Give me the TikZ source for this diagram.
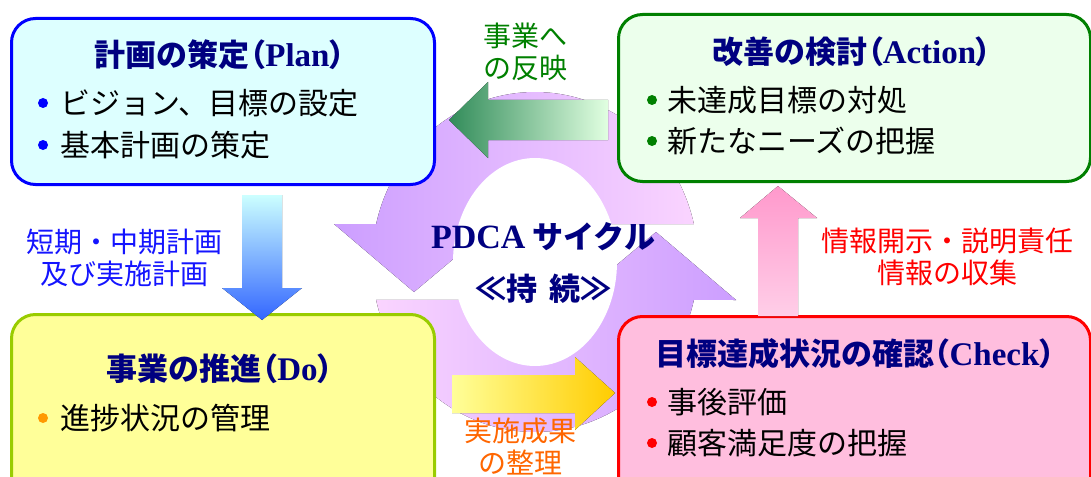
\documentclass[tikz,border=0pt]{standalone}
\usepackage{fontspec}
\newfontfamily\jp{Noto Sans CJK JP}
\newfontfamily\tnr{Liberation Serif}
\definecolor{navy}{RGB}{0,0,128}
\definecolor{ringP}{RGB}{204,158,255}
\definecolor{ringL}{RGB}{250,212,255}
\definecolor{planB}{RGB}{0,0,255}
\definecolor{planF}{RGB}{221,255,255}
\definecolor{actB}{RGB}{0,128,0}
\definecolor{actF}{RGB}{236,255,236}
\definecolor{doB}{RGB}{153,204,0}
\definecolor{doF}{RGB}{255,255,153}
\definecolor{chkB}{RGB}{255,0,0}
\definecolor{chkF}{RGB}{255,190,222}
\definecolor{blueT}{RGB}{204,255,255}
\definecolor{blueB}{RGB}{51,102,255}
\definecolor{grnD}{RGB}{50,140,90}
\definecolor{grnL}{RGB}{225,255,225}
\definecolor{pnkT}{RGB}{255,153,204}
\definecolor{pnkB}{RGB}{255,206,232}
\definecolor{ylwL}{RGB}{255,255,153}
\definecolor{ylwR}{RGB}{255,204,0}
\definecolor{lblG}{RGB}{0,128,0}
\definecolor{lblB}{RGB}{20,20,255}
\definecolor{lblR}{RGB}{255,0,0}
\definecolor{lblO}{RGB}{255,102,0}
\definecolor{dotO}{RGB}{255,153,0}
\newcommand\lpar{{\addfontfeatures{RawFeature=+palt}（}}
\newcommand\rpar{{\addfontfeatures{RawFeature=+palt}）}}
\newcommand\lat[1]{{\tnr\bfseries\fontsize{33}{36}\selectfont #1}}
\begin{document}
\begin{tikzpicture}[x=1pt,y=-1pt,
  box/.style={rounded corners=24pt, line width=3pt, anchor=north west, inner sep=0pt},
  ttl/.style={font=\jp\bfseries\fontsize{31}{36}\selectfont, text=navy, inner sep=0pt},
  itm/.style={font=\jp\fontsize{30}{34}\selectfont, text=black, anchor=west, inner sep=0pt},
  lbl/.style={font=\jp\fontsize{28}{32}\selectfont, align=center, inner sep=0pt},
  dot/.style={circle, inner sep=0pt, minimum size=10pt},
  mid/.style={font=\jp\bfseries\fontsize{31}{52}\selectfont, text=navy, align=center, inner sep=0pt}]
\useasboundingbox (0,0) rectangle (1091,476);
\clip (0,0) rectangle (1091,476);

% cycle ring
\fill[left color=ringP, right color=ringL]
  plot[domain=12.9:167.1, samples=80] ({535+163*cos(\x)},{262-170*sin(\x)})
  -- (334,224) -- (414,292) -- (495,224) -- cycle;
\fill[left color=ringL, right color=ringP]
  plot[domain=192.9:347.1, samples=80] ({535+163*cos(\x)},{262-170*sin(\x)})
  -- (736,300) -- (656,232) -- (575,300) -- cycle;
\fill[white] (535,262) ellipse [x radius=82pt, y radius=104pt];

% boxes
\node[box, draw=planB, fill=planF, minimum width=423pt, minimum height=166pt] (plan) at (10,17) {};
\node[box, draw=actB, fill=actF, minimum width=472pt, minimum height=167pt] (act) at (617,13) {};
\node[box, draw=doB, fill=doF, minimum width=423pt, minimum height=190pt] (do) at (10,313) {};
\node[box, draw=chkB, fill=chkF, minimum width=472pt, minimum height=190pt] (chk) at (617,315) {};

% block arrows
\fill[left color=grnD, right color=grnL]
  (608,100) -- (488,100) -- (488,82) -- (449,120) -- (488,158) -- (488,140) -- (608,140) -- cycle;
\fill[left color=ylwL, right color=ylwR]
  (452,375) -- (575,375) -- (575,357) -- (615,393) -- (575,430) -- (575,413) -- (452,413) -- cycle;
\fill[top color=blueT, bottom color=blueB]
  (242,195) -- (282,195) -- (282,288) -- (302,288) -- (262,320) -- (222,288) -- (242,288) -- cycle;
\fill[top color=pnkT, bottom color=pnkB]
  (758,316) -- (758,218) -- (740,218) -- (778,186) -- (817,218) -- (798,218) -- (798,316) -- cycle;

% titles
\node[ttl] (planT) at (220,55) {計画の策定\lpar\lat{Plan}\rpar};
\node[ttl] (actT) at (852,52) {改善の検討\lpar\lat{Action}\rpar};
\node[ttl] (doT) at (220,369) {事業の推進\lpar\lat{Do}\rpar};
\node[ttl] (chkT) at (855,354) {目標達成状況の確認\lpar\lat{Check}\rpar};

% items
\node[dot, fill=planB] (pd1) at (43,103) {};
\node[itm] (pi1) at (60,103) {ビジョン、目標の設定};
\node[dot, fill=planB] (pd2) at (43,145) {};
\node[itm] (pi2) at (60,145) {基本計画の策定};
\node[dot, fill=actB] (ad1) at (652,100) {};
\node[itm] (ai1) at (667,100) {未達成目標の対処};
\node[dot, fill=actB] (ad2) at (652,141) {};
\node[itm] (ai2) at (667,141) {新たなニーズの把握};
\node[dot, fill=dotO] (dd1) at (43,418) {};
\node[itm] (di1) at (60,418) {進捗状況の管理};
\node[dot, fill=chkB] (cd1) at (652,402) {};
\node[itm] (ci1) at (667,402) {事後評価};
\node[dot, fill=chkB] (cd2) at (652,443) {};
\node[itm] (ci2) at (667,443) {顧客満足度の把握};

% labels
\node[lbl, text=lblG] (lA) at (525,52) {事業へ\\の反映};
\node[lbl, text=lblB] (lP) at (124,258) {短期・中期計画\\及び実施計画};
\node[lbl, text=lblR] (lC) at (947,257) {情報開示・説明責任\\情報の収集};
\node[lbl, text=lblO] (lD) at (520,447) {実施成果\\の整理};

% center
\node[mid] (cyc) at (543,263) {{\tnr\bfseries\fontsize{34}{52}\selectfont PDCA} サイクル\\≪持\hspace{12pt}続≫};
\end{tikzpicture}
\end{document}
